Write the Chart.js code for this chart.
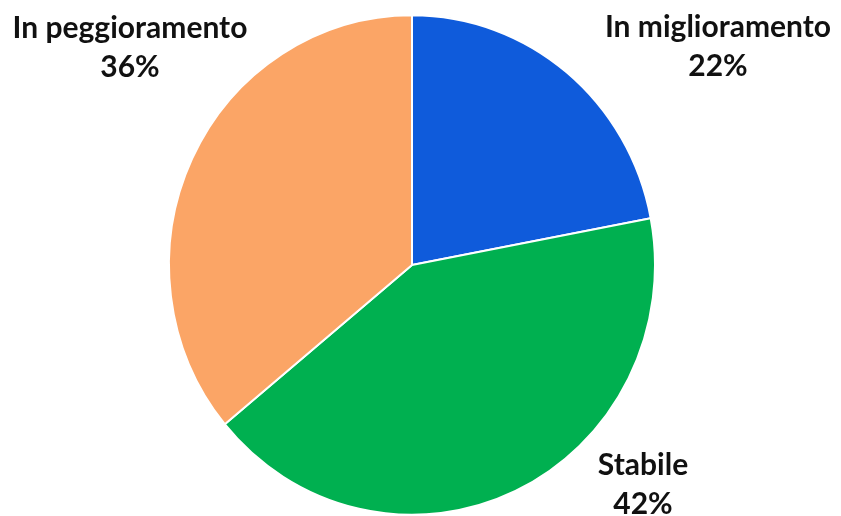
<!DOCTYPE html>
<html>
<head>
<meta charset="utf-8">
<script src="https://cdn.jsdelivr.net/npm/chart.js@4"></script>
<style>
  html, body { margin: 0; padding: 0; background: #fff; }
  #wrap { width: 841px; height: 516px; }
</style>
</head>
<body>
<div id="wrap"><canvas id="pieChart" width="841" height="516"></canvas></div>
<script>
// data
const labels = ["In miglioramento", "Stabile", "In peggioramento"];
const values = [22, 42, 36];
const colors = ["#0F5BDB", "#00B050", "#FBA566"];

// where each label sits (canvas px): x centre, baseline of first line
const labelSpots = [
  { x: 718, y: 37 },
  { x: 643, y: 475 },
  { x: 130, y: 38 }
];

// the original pie is a touch taller than wide
const stretchY = 1.028;

const stretchPlugin = {
  id: "stretchPie",
  beforeDatasetsDraw(chart) {
    const a = chart.chartArea;
    const cy = (a.top + a.bottom) / 2;
    chart.ctx.save();
    chart.ctx.translate(0, cy);
    chart.ctx.scale(1, stretchY);
    chart.ctx.translate(0, -cy);
  },
  afterDatasetsDraw(chart) {
    chart.ctx.restore();
  }
};

const labelPlugin = {
  id: "outsideLabels",
  afterDraw(chart) {
    const c = chart.ctx;
    const total = values.reduce((a, b) => a + b, 0);
    c.save();
    c.fillStyle = "#111";
    c.font = "bold 30px Lato";
    c.textAlign = "center";
    c.textBaseline = "alphabetic";
    labels.forEach((lab, i) => {
      const p = labelSpots[i];
      c.fillText(lab, p.x, p.y);
      c.fillText(Math.round(values[i] / total * 100) + "%", p.x, p.y + 39);
    });
    c.restore();
  }
};

const ctx = document.getElementById("pieChart").getContext("2d");
const pieChart = new Chart(ctx, {
  type: "pie",
  data: {
    labels: labels,
    datasets: [{
      data: values,
      backgroundColor: colors,
      borderColor: "#ffffff",
      borderWidth: 2
    }]
  },
  options: {
    responsive: false,
    animation: false,
    layout: { padding: { top: 21, bottom: 7, left: 168, right: 185 } },
    plugins: {
      legend: { display: false },
      tooltip: { enabled: false }
    }
  },
  plugins: [stretchPlugin, labelPlugin]
});
</script>
</body>
</html>
